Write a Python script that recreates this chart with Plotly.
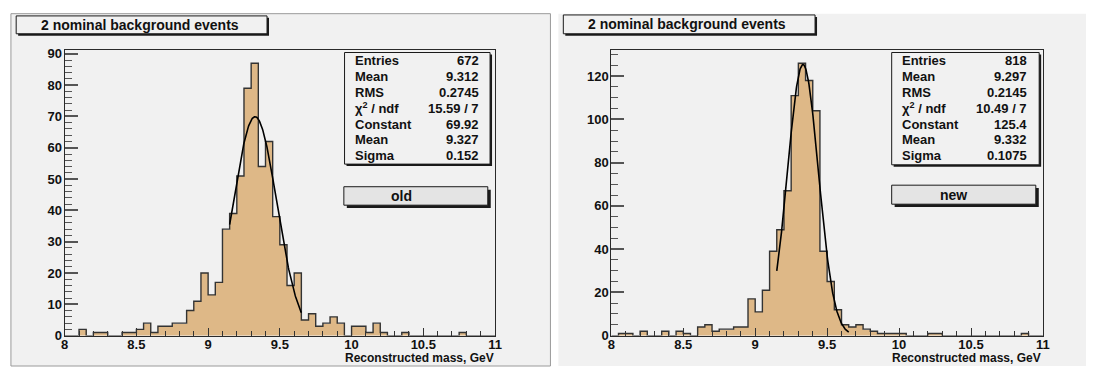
import numpy as np
import plotly.graph_objects as go

W, H = 1093, 374

# ---------------- data ----------------
bin_edges = np.round(np.linspace(8.0, 11.0, 61), 3)  # 60 bins of 0.05 GeV

counts_old = [0, 0, 2, 0, 1, 1, 0, 0, 1, 1,
              2, 4, 1, 3, 3, 4, 4, 8, 11, 20,
              13, 17, 34, 39, 51, 79, 87, 54, 62, 38,
              29, 16, 20, 5, 7, 3, 4, 6, 4, 0,
              3, 3, 1, 4, 1, 0, 0, 1, 0, 0,
              0, 0, 0, 0, 0, 1, 0, 0, 0, 0]

counts_new = [0, 1, 1, 0, 2, 0, 0, 2, 0, 2,
              1, 0, 4, 5, 2, 3, 3, 4, 4, 17,
              11, 21, 39, 49, 67, 111, 126, 118, 104, 39,
              25, 12, 5, 4, 5, 3, 2, 1, 1, 1,
              1, 0, 0, 0, 1, 1, 0, 0, 0, 0,
              0, 0, 0, 0, 0, 0, 0, 1, 0, 0]

# fit parameters (Gaussian) shown in the stat boxes
fit_old = dict(const=69.92, mean=9.327, sigma=0.152)
fit_new = dict(const=125.4, mean=9.332, sigma=0.1075)
fit_range = (9.15, 9.65)

stat_labels = ["Entries", "Mean", "RMS", "χ<sup>2</sup> / ndf", "Constant", "Mean", "Sigma"]
stat_old = ["672", "9.312", "0.2745", "15.59 / 7", "69.92", "9.327", "0.152"]
stat_new = ["818", "9.297", "0.2145", "10.49 / 7", "125.4", "9.332", "0.1075"]

title_text = "2 nominal background events"
xlabel_text = "Reconstructed mass, GeV"
x_ticks = [8, 8.5, 9, 9.5, 10, 10.5, 11]
x_ticktext = ["8", "8.5", "9", "9.5", "10", "10.5", "11"]
y_ticks_old = [0, 10, 20, 30, 40, 50, 60, 70, 80, 90]
y_ticks_new = [0, 20, 40, 60, 80, 100, 120]

# ---------------- styling ----------------
FONT = "Liberation Sans, Arial, Helvetica, sans-serif"
FILL = "#deb887"
PANEL = "#f1f1f1"
LINE = "#2a2a2a"


def px(x):
    return x / W


def py(y):
    return 1 - y / H


fig = go.Figure()

centers = (bin_edges[:-1] + bin_edges[1:]) / 2


def add_hist(counts, fit, xa, ya):
    fig.add_trace(go.Bar(x=centers, y=counts, width=0.05,
                         marker=dict(color=FILL, line=dict(width=0)),
                         xaxis=xa, yaxis=ya, showlegend=False, hoverinfo="skip"))
    ystep = list(counts) + [counts[-1]]
    fig.add_trace(go.Scatter(x=bin_edges, y=ystep, mode="lines", line_shape="hv",
                             line=dict(color="#333333", width=1.4),
                             xaxis=xa, yaxis=ya, showlegend=False, hoverinfo="skip"))
    xf = np.linspace(fit_range[0], fit_range[1], 200)
    yf = fit["const"] * np.exp(-0.5 * ((xf - fit["mean"]) / fit["sigma"]) ** 2)
    fig.add_trace(go.Scatter(x=xf, y=yf, mode="lines",
                             line=dict(color="black", width=1.6),
                             xaxis=xa, yaxis=ya, showlegend=False, hoverinfo="skip"))


add_hist(counts_old, fit_old, "x", "y")
add_hist(counts_new, fit_new, "x2", "y2")

ydom = [py(342.7), py(48.0)]
xdom1 = [px(61.3), px(496.0)]
xdom2 = [px(613.5), px(1049.5)]

tickfont = dict(family=FONT, size=13, color="#111111", weight="bold")

xaxis_common = dict(range=[8, 11], tickvals=x_ticks, ticktext=x_ticktext,
                    ticks="inside", ticklen=8, tickwidth=1.2, tickcolor="#333333",
                    minor=dict(ticks="inside", ticklen=5, dtick=0.1, tick0=8,
                               tickcolor="#333333", tickwidth=1),
                    showline=True, linecolor=LINE, linewidth=1.2, mirror=True,
                    showgrid=False, zeroline=False, tickfont=tickfont,
                    ticklabelstandoff=-3, fixedrange=True)

yaxis_common = dict(ticks="inside", ticklen=13, tickwidth=1.5, tickcolor="#555555",
                    showline=True, linecolor=LINE, linewidth=1.2, mirror=True,
                    showgrid=False, zeroline=False, tickfont=tickfont,
                    ticklabelstandoff=-1, fixedrange=True)

fig.update_layout(
    width=W, height=H,
    margin=dict(l=0, r=0, t=0, b=0),
    paper_bgcolor="white", plot_bgcolor="rgba(0,0,0,0)",
    bargap=0,
    xaxis=dict(domain=xdom1, anchor="y", **xaxis_common),
    xaxis2=dict(domain=xdom2, anchor="y2", **xaxis_common),
    yaxis=dict(domain=ydom, anchor="x", range=[0, 91.35], tickvals=y_ticks_old,
               minor=dict(ticks="inside", ticklen=7, dtick=2, tickcolor="#555555", tickwidth=1),
               **yaxis_common),
    yaxis2=dict(domain=ydom, anchor="x2", range=[0, 132.3], tickvals=y_ticks_new,
                minor=dict(ticks="inside", ticklen=7, dtick=5, tickcolor="#555555", tickwidth=1),
                **yaxis_common),
)

shapes = []
annos = []


def rect(x0, y0, x1, y1, fill, line_color=None, lw=0, layer="below"):
    shapes.append(dict(type="rect", xref="paper", yref="paper",
                       x0=px(x0), x1=px(x1), y0=py(y1), y1=py(y0),
                       fillcolor=fill, layer=layer,
                       line=dict(color=line_color or fill, width=lw)))


def text(x, y, s, size, xanchor="center", color="#111111"):
    annos.append(dict(xref="paper", yref="paper", x=px(x), y=py(y), text=s,
                      showarrow=False, xanchor=xanchor, yanchor="middle",
                      font=dict(family=FONT, size=size, color=color, weight="bold")))


# pads
rect(7, 11, 552, 374, PANEL, "#9a9a9a", 1)
rect(560, 11, 1093, 374, PANEL)


def box(x0, y0, x1, y1, fill, shadow):
    rect(x0 + shadow, y0 + shadow, x1 + shadow, y1 + shadow, "#1a1a1a", layer="above")
    rect(x0, y0, x1, y1, fill, "#1a1a1a", 1, layer="above")


# title boxes
box(12.3, 13.3, 265.7, 31.7, PANEL, 2)
text(137.5, 22.5, title_text, 14)
box(565, 12.3, 819.3, 31.7, PANEL, 2)
text(690, 22, title_text, 14)

# stat boxes
box(344, 51, 491, 166, PANEL, 2)
box(896.7, 51, 1045.7, 166.7, PANEL, 2)
row_y = [59.5, 75.8, 92.1, 108.4, 124.7, 141.0, 157.3]
for lab, v, y in zip(stat_labels, stat_old, row_y):
    text(352.7, y, lab, 13, xanchor="left")
    text(482, y, v, 13, xanchor="right")
for lab, v, y in zip(stat_labels, stat_new, row_y):
    text(905, y, lab, 13, xanchor="left")
    text(1035.5, y, v, 13, xanchor="right")

# label boxes
box(343.3, 189.3, 488.7, 208.3, "#e4e4e4", 3)
text(402, 198.8, "old", 14)
box(896.7, 187.7, 1042.3, 207.3, "#e4e4e4", 3)
text(959.3, 197.5, "new", 14)

# x-axis titles (right aligned)
text(497, 366, xlabel_text, 12, xanchor="right")
text(1050, 366, xlabel_text, 12, xanchor="right")

fig.update_layout(shapes=shapes, annotations=annos)

fig.write_html("out.html", config={"displayModeBar": False},
               post_script="document.body.style.margin='0px';")
